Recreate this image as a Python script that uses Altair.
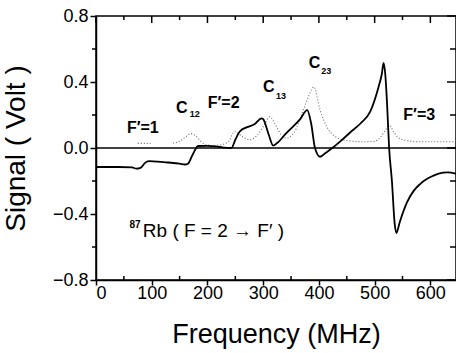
import altair as alt
import pandas as pd

# ---- data ----
solid_f = [0, 40, 65, 72, 80, 88, 95, 110, 130, 150, 160, 165, 172, 178, 183, 200, 215, 230, 243,
           250, 258, 270, 285, 297, 300, 310, 318, 325, 342, 366, 379, 386, 393, 402, 412, 424,
           440, 456, 475, 492, 507, 513, 516, 519, 522, 526, 531, 536, 539, 545, 558, 570, 581,
           595, 604, 615, 631, 646]
solid_v = [-0.115, -0.115, -0.118, -0.125, -0.12, -0.09, -0.08, -0.082, -0.088, -0.095, -0.1,
           -0.095, -0.05, -0.01, 0.012, 0.013, 0.01, 0.002, 0.0,
           0.05, 0.1, 0.125, 0.145, 0.18, 0.175, 0.08, 0.015, 0.03, 0.092, 0.173, 0.229, 0.15, 0.0,
           -0.053, -0.03, 0.0, 0.045, 0.094, 0.15, 0.22, 0.37, 0.45, 0.516, 0.45, 0.29, 0.0,
           -0.2, -0.46, -0.515, -0.45, -0.33, -0.26, -0.22, -0.185, -0.17, -0.155, -0.148, -0.155]

dot_f = [75, 98,
         138, 150, 160, 170, 180, 190, 197, 210, 225, 238, 249, 262, 276, 290, 302, 312, 322, 332,
         342, 355, 372, 381, 391, 402, 414, 429, 450, 480, 500, 510, 518, 526, 534, 542, 557, 580, 646]
dot_v = [0.028, 0.028,
         0.03, 0.04, 0.065, 0.087, 0.07, 0.035, 0.02, 0.015, 0.02, 0.04, 0.1, 0.07, 0.05, 0.08, 0.14,
         0.19, 0.14, 0.08, 0.06, 0.09, 0.23, 0.31, 0.37, 0.23, 0.13, 0.07, 0.045, 0.038, 0.04, 0.064,
         0.1, 0.136, 0.1, 0.064, 0.045, 0.038, 0.038]
dot_seg = [1, 1] + [2] * 37

x_major = [0, 100, 200, 300, 400, 500, 600]
x_minor = [50, 150, 250, 350, 450, 550]
y_major = [-0.8, -0.4, 0.0, 0.4, 0.8]
y_minor = [-0.6, -0.2, 0.2, 0.6]

big_labels = ["F′=1", "C", "F′=2", "C", "C", "F′=3"]
big_f = [84, 154, 229, 310, 392, 580]
big_v = [0.12, 0.24, 0.27, 0.37, 0.515, 0.197]

sub_labels = ["12", "13", "23"]
sub_f = [177, 332, 413]
sub_v = [0.205, 0.318, 0.464]

FONT = "Liberation Sans"
W, H = 360, 264

xs = alt.Scale(domain=[0, 646], nice=False, zero=False)
ys = alt.Scale(domain=[-0.8, 0.8], nice=False, zero=False)

xaxis = alt.Axis(values=x_major, format="d", tickSize=5, labelPadding=-1, grid=False,
                 domainColor="black", domainWidth=1.5, tickColor="black", tickWidth=1.5,
                 labelFont=FONT, labelFontSize=18, labelColor="black",
                 titleFont=FONT, titleFontSize=27, titleFontWeight="normal", titleColor="black",
                 titlePadding=19)
yaxis = alt.Axis(values=y_major, format=".1f", tickSize=6, labelPadding=2, grid=False,
                 domainColor="black", domainWidth=1.5, tickColor="black", tickWidth=1.5,
                 labelFont=FONT, labelFontSize=18, labelColor="black",
                 titleFont=FONT, titleFontSize=28, titleFontWeight="normal", titleColor="black",
                 titlePadding=22)

X = alt.X("f:Q", scale=xs, axis=xaxis, title="Frequency (MHz)")
Y = alt.Y("v:Q", scale=ys, axis=yaxis, title="Signal ( Volt )")

solid_df = pd.DataFrame({"f": solid_f, "v": solid_v})
dot_df = pd.DataFrame({"f": dot_f, "v": dot_v, "seg": dot_seg})

zero = alt.Chart(pd.DataFrame({"v": [0.0]})).mark_rule(color="black", strokeWidth=1.5).encode(
    y=alt.Y("v:Q", scale=ys, axis=yaxis, title="Signal ( Volt )"))

dotted = alt.Chart(dot_df).mark_line(color="#666666", strokeWidth=1.1, strokeDash=[1, 2],
                                     interpolate="monotone").encode(x=X, y=Y, detail="seg:N")

solid = alt.Chart(solid_df).mark_line(color="black", strokeWidth=1.8,
                                      interpolate="monotone").encode(x=X, y=Y)

# extra ticks (minor, top, right)
ty_minor = pd.DataFrame({"v": y_minor})
ty_major = pd.DataFrame({"v": y_major})
tx_minor = pd.DataFrame({"f": x_minor})
tx_major = pd.DataFrame({"f": x_major})

left_minor = alt.Chart(ty_minor).mark_rule(color="black", strokeWidth=1.5).encode(
    y=Y, x=alt.value(0), x2=alt.value(-4))
right_major = alt.Chart(ty_major).mark_rule(color="black", strokeWidth=1.5).encode(
    y=Y, x=alt.value(W), x2=alt.value(W - 9))
right_minor = alt.Chart(ty_minor).mark_rule(color="black", strokeWidth=1.5).encode(
    y=Y, x=alt.value(W), x2=alt.value(W - 6))
top_major = alt.Chart(tx_major).mark_rule(color="black", strokeWidth=1.5).encode(
    x=X, y=alt.value(0), y2=alt.value(7))
top_minor = alt.Chart(tx_minor).mark_rule(color="black", strokeWidth=1.5).encode(
    x=X, y=alt.value(0), y2=alt.value(4))
bottom_minor = alt.Chart(tx_minor).mark_rule(color="black", strokeWidth=1.5).encode(
    x=X, y=alt.value(H), y2=alt.value(H - 4))

big = alt.Chart(pd.DataFrame({"t": big_labels, "f": big_f, "v": big_v})).mark_text(
    font=FONT, fontSize=16, fontWeight="bold", color="black", align="center", baseline="middle"
).encode(x=X, y=Y, text="t:N")
subs = alt.Chart(pd.DataFrame({"t": sub_labels, "f": sub_f, "v": sub_v})).mark_text(
    font=FONT, fontSize=9, fontWeight="bold", color="black", align="center", baseline="middle"
).encode(x=X, y=Y, text="t:N")
rb_sup = alt.Chart(pd.DataFrame({"t": ["87"], "f": [70], "v": [-0.465]})).mark_text(
    font=FONT, fontSize=10, fontWeight="bold", color="black", align="center", baseline="middle"
).encode(x=X, y=Y, text="t:N")
rb = alt.Chart(pd.DataFrame({"t": ["Rb ( F = 2 → F′ )"], "f": [84], "v": [-0.5]})).mark_text(
    font=FONT, fontSize=19, color="black", align="left", baseline="middle"
).encode(x=X, y=Y, text="t:N")

chart = alt.layer(
    zero, dotted, solid, left_minor, right_major, right_minor, top_major, top_minor,
    bottom_minor, big, subs, rb_sup, rb
).properties(
    width=W, height=H,
    autosize=alt.AutoSizeParams(type="none"),
    padding={"left": 96, "top": 16, "right": 0, "bottom": 73},
    background="white",
).configure_view(stroke="black", strokeWidth=1.5)

chart.save("out.html", embed_options={"renderer": "svg", "actions": False})
